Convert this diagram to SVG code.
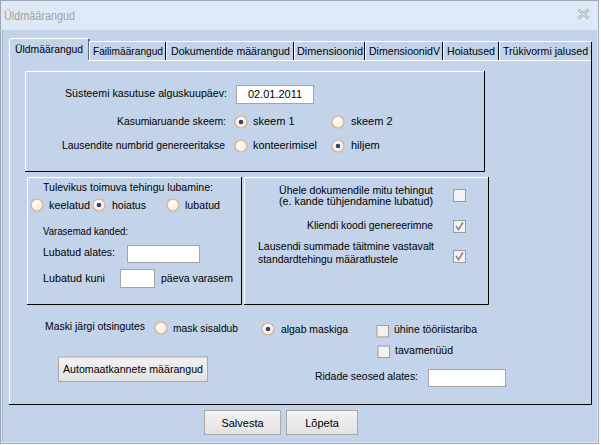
<svg xmlns="http://www.w3.org/2000/svg" width="601" height="445" viewBox="0 0 601 445">
<style>
text{font-family:"Liberation Sans",Arial,sans-serif;font-size:11px;fill:#000}
.r{text-anchor:end}
.m{text-anchor:middle}
.hi{stroke:#fff;stroke-width:1;fill:none}
.sh{stroke:#000;stroke-width:1;fill:none}
.inp{fill:#fff;stroke:#a5a5a5;stroke-width:1}
.cb{fill:#f2f2f2;stroke:#9c9c9c;stroke-width:1}
.ck{fill:none;stroke:#8a8a8a;stroke-width:1.6}
.btn{fill:url(#bg);stroke:#a9a9a9;stroke-width:1}
.rad{fill:url(#rg);stroke:#d5ad93;stroke-width:1.2}
.dot{fill:#2b4776}
.tab{fill:#c3d4ea}
</style>
<defs>
<radialGradient id="rg" cx="0.4" cy="0.4" r="0.6">
<stop offset="0" stop-color="#ffffff"/>
<stop offset="1" stop-color="#fbe9d6"/>
</radialGradient>
<linearGradient id="bg" x1="0" y1="0" x2="0" y2="1">
<stop offset="0" stop-color="#f3f3f3"/>
<stop offset="1" stop-color="#e2e2e2"/>
</linearGradient>
</defs>
<g id="window">
<rect x="0.5" y="0.5" width="598" height="443" fill="#dfe9f5" stroke="#9aa8bb"/>
<rect x="3" y="30" width="594" height="412" fill="#c3d4ea"/>
<line x1="2.5" y1="30" x2="2.5" y2="442" stroke="#a9b7c9"/>
<text x="4" y="20" style="fill:#a3a3a3;font-size:12px" textLength="71" lengthAdjust="spacingAndGlyphs">Üldmäärangud</text>
<path d="M578.5 9.5 L588.5 18.5 M588.5 9.5 L578.5 18.5" stroke="#a9b2bc" stroke-width="3" fill="none"/>
<path d="M578.5 9.5 L588.5 18.5 M588.5 9.5 L578.5 18.5" stroke="#eef2f7" stroke-width="1" fill="none"/>
</g>
<g id="tabs">
<rect class="tab" x="10" y="38" width="79" height="23"/>
<path class="hi" d="M9.5 60 V40 Q9.5 38.5 11 38.5 H88"/>
<line class="sh" x1="89" y1="39" x2="89" y2="60"/>
<text x="15" y="53" textLength="68" lengthAdjust="spacingAndGlyphs">Üldmäärangud</text>
<path class="hi" d="M89.5 60 V41.5 H165"/>
<line class="sh" x1="165.5" y1="42" x2="165.5" y2="60"/>
<text x="93" y="55" textLength="70" lengthAdjust="spacingAndGlyphs">Failimäärangud</text>
<path class="hi" d="M166.5 60 V41.5 H293"/>
<line class="sh" x1="293.5" y1="42" x2="293.5" y2="60"/>
<text x="171" y="55" textLength="119" lengthAdjust="spacingAndGlyphs">Dokumentide määrangud</text>
<path class="hi" d="M294.5 60 V41.5 H364"/>
<line class="sh" x1="364.5" y1="42" x2="364.5" y2="60"/>
<text x="297" y="55" textLength="66" lengthAdjust="spacingAndGlyphs">Dimensioonid</text>
<path class="hi" d="M365.5 60 V41.5 H442"/>
<line class="sh" x1="442.5" y1="42" x2="442.5" y2="60"/>
<text x="369" y="55" textLength="71" lengthAdjust="spacingAndGlyphs">DimensioonidV</text>
<path class="hi" d="M443.5 60 V41.5 H498"/>
<line class="sh" x1="498.5" y1="42" x2="498.5" y2="60"/>
<text x="447" y="55" textLength="48" lengthAdjust="spacingAndGlyphs">Hoiatused</text>
<path class="hi" d="M499.5 60 V41.5 H591"/>
<line class="sh" x1="591.5" y1="42" x2="591.5" y2="60"/>
<text x="503" y="55" textLength="85" lengthAdjust="spacingAndGlyphs">Trükivormi jalused</text>
</g>
<g id="page">
<path class="hi" d="M9.5 404 V60 M88 60.5 H591"/>
<path class="sh" d="M591.5 60 V404.5 H9"/>
</g>
<g id="group-top">
<path class="hi" d="M25.5 172 V71.5 H484"/>
<path class="sh" d="M484.5 71 V171.5 H25"/>
<text x="65" y="97" textLength="162" lengthAdjust="spacingAndGlyphs">Süsteemi kasutuse alguskuupäev:</text>
<rect class="inp" x="236.5" y="85.5" width="77" height="18"/>
<text class="m" x="275" y="98">02.01.2011</text>
<text x="117" y="125" textLength="109" lengthAdjust="spacingAndGlyphs">Kasumiaruande skeem:</text>
<circle class="rad" cx="241" cy="122" r="6"/><circle class="dot" cx="241" cy="122" r="2.3"/>
<text x="253" y="125">skeem 1</text>
<circle class="rad" cx="338" cy="122" r="6"/>
<text x="351" y="125">skeem 2</text>
<text x="62" y="149" textLength="163" lengthAdjust="spacingAndGlyphs">Lausendite numbrid genereeritakse</text>
<circle class="rad" cx="241" cy="146" r="6"/>
<text x="253" y="149" textLength="64" lengthAdjust="spacingAndGlyphs">konteerimisel</text>
<circle class="rad" cx="338" cy="146" r="6"/><circle class="dot" cx="338" cy="146" r="2.3"/>
<text x="351" y="149">hiljem</text>
</g>
<g id="group-left">
<path class="hi" d="M27.5 304 V177.5 H241"/>
<path class="sh" d="M241.5 177 V304.5 H27"/>
<text x="43" y="191" textLength="170" lengthAdjust="spacingAndGlyphs">Tulevikus toimuva tehingu lubamine:</text>
<circle class="rad" cx="37" cy="205" r="6"/>
<text x="49" y="209" textLength="41" lengthAdjust="spacingAndGlyphs">keelatud</text>
<circle class="rad" cx="99" cy="205" r="6"/><circle class="dot" cx="99" cy="205" r="2.3"/>
<text x="112" y="209" textLength="34" lengthAdjust="spacingAndGlyphs">hoiatus</text>
<circle class="rad" cx="173" cy="205" r="6"/>
<text x="185" y="209" textLength="35" lengthAdjust="spacingAndGlyphs">lubatud</text>
<text x="43" y="235" textLength="85" lengthAdjust="spacingAndGlyphs">Varasemad kanded:</text>
<text x="43" y="256" textLength="72" lengthAdjust="spacingAndGlyphs">Lubatud alates:</text>
<rect class="inp" x="127.5" y="245.5" width="72" height="17"/>
<text x="43" y="282" textLength="62" lengthAdjust="spacingAndGlyphs">Lubatud kuni</text>
<rect class="inp" x="120.5" y="269.5" width="34" height="18"/>
<text x="161" y="282" textLength="72" lengthAdjust="spacingAndGlyphs">päeva varasem</text>
</g>
<g id="group-right">
<path class="hi" d="M244.5 304 V177.5 H488"/>
<path class="sh" d="M488.5 177 V304.5 H244"/>
<text x="279" y="194" textLength="154" lengthAdjust="spacingAndGlyphs">Ühele dokumendile mitu tehingut</text>
<text x="279" y="205" textLength="154" lengthAdjust="spacingAndGlyphs">(e. kande tühjendamine lubatud)</text>
<rect class="cb" x="453.5" y="189.5" width="12" height="12"/>
<text x="307" y="229" textLength="126" lengthAdjust="spacingAndGlyphs">Kliendi koodi genereerimne</text>
<rect class="cb" x="453.5" y="220.5" width="12" height="12"/>
<path class="ck" d="M456 226 L458.5 229.5 L463 222.5"/>
<text x="258" y="250" textLength="176" lengthAdjust="spacingAndGlyphs">Lausendi summade täitmine vastavalt</text>
<text x="258" y="263" textLength="140" lengthAdjust="spacingAndGlyphs">standardtehingu määratlustele</text>
<rect class="cb" x="453.5" y="250.5" width="12" height="12"/>
<path class="ck" d="M456 256 L458.5 259.5 L463 252.5"/>
</g>
<g id="search">
<text x="45" y="330" textLength="100" lengthAdjust="spacingAndGlyphs">Maski järgi otsingutes</text>
<circle class="rad" cx="161" cy="328" r="6"/>
<text x="173" y="332" textLength="65" lengthAdjust="spacingAndGlyphs">mask sisaldub</text>
<circle class="rad" cx="268" cy="329" r="6"/><circle class="dot" cx="268" cy="329" r="2.3"/>
<text x="281" y="333" textLength="67" lengthAdjust="spacingAndGlyphs">algab maskiga</text>
</g>
<g id="toolbar">
<rect class="cb" x="377" y="325.5" width="11.5" height="11.5"/>
<text x="394" y="333" textLength="83" lengthAdjust="spacingAndGlyphs">ühine tööriistariba</text>
<rect class="cb" x="378" y="346" width="11.5" height="11.5"/>
<text x="395" y="354" textLength="58" lengthAdjust="spacingAndGlyphs">tavamenüüd</text>
</g>
<g id="auto-button">
<rect class="btn" x="58.5" y="357" width="149" height="24.5"/>
<text x="63" y="373" textLength="140" lengthAdjust="spacingAndGlyphs">Automaatkannete määrangud</text>
</g>
<g id="ridade">
<text x="315" y="380" textLength="103" lengthAdjust="spacingAndGlyphs">Ridade seosed alates:</text>
<rect class="inp" x="428.5" y="369.5" width="77" height="17"/>
</g>
<g id="buttons">
<rect class="btn" x="204.5" y="410.5" width="76" height="24"/>
<text class="m" x="242.5" y="427">Salvesta</text>
<rect class="btn" x="286.5" y="410.5" width="71" height="24"/>
<text class="m" x="322" y="427">Lõpeta</text>
</g>
</svg>
